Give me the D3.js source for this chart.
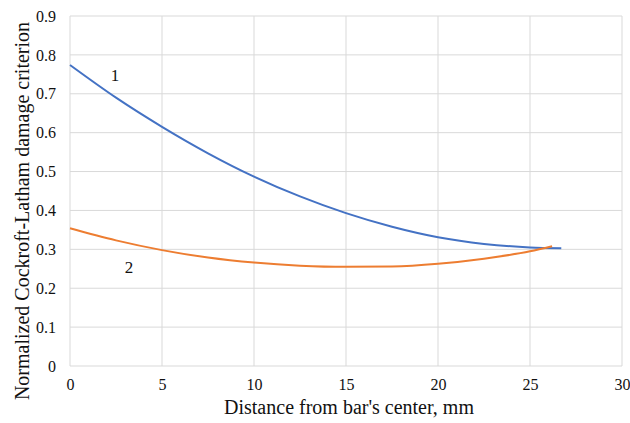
<!DOCTYPE html>
<html lang="en">
    <head>
        <meta charset="utf-8" />
        <title>Cockroft-Latham damage criterion</title>
        <style>
            body { margin: 0; background: #fff; }
            svg text {
                font-family: "Liberation Serif", "Times New Roman", serif;
                fill: #111;
            }
            .grid line { stroke: #d9d9d9; stroke-width: 1; }
        </style>
        <script src="https://cdn.jsdelivr.net/npm/d3@7"></script>
    </head>
    <body>
        <script type="text/javascript">
            // distance from the bar's center, mm
            var xBlue = [0, 2.5, 5, 7.5, 10, 12.5, 15, 17.5, 20, 22.5, 25, 26.7];
            var yBlue = [0.774, 0.69, 0.615, 0.547, 0.487, 0.436, 0.393, 0.358, 0.331, 0.314, 0.305, 0.303];
            var xOrange = [0, 2.5, 5, 7.5, 10, 12.5, 15, 17.5, 20, 22.5, 25, 26.2];
            var yOrange = [0.354, 0.323, 0.298, 0.279, 0.266, 0.258, 0.255, 0.256, 0.263, 0.276, 0.295, 0.308];
            var xTicks = [0, 5, 10, 15, 20, 25, 30];
            var yTicks = [0, 0.1, 0.2, 0.3, 0.4, 0.5, 0.6, 0.7, 0.8, 0.9];

            var width = 630,
                height = 423,
                plotLeft = 70, plotRight = 622, plotTop = 16, plotBottom = 366;

            var x = d3.scaleLinear().domain([0, 30]).range([plotLeft, plotRight]);
            var y = d3.scaleLinear().domain([0, 0.9]).range([plotBottom, plotTop]);

            var svg = d3.select('body')
                        .append('svg')
                        .attr('width', width)
                        .attr('height', height);

            // grid
            var grid = svg.append('g').attr('class', 'grid');
            grid.selectAll('.gx').data(xTicks).enter().append('line')
                .attr('x1', function(d) { return x(d); })
                .attr('x2', function(d) { return x(d); })
                .attr('y1', plotTop).attr('y2', plotBottom);
            grid.selectAll('.gy').data(yTicks).enter().append('line')
                .attr('x1', plotLeft).attr('x2', plotRight)
                .attr('y1', function(d) { return y(d); })
                .attr('y2', function(d) { return y(d); });

            // axes (labels only, lines come from the grid)
            svg.append('g')
                .attr('transform', 'translate(0,' + plotBottom + ')')
                .call(d3.axisBottom(x).tickValues(xTicks).tickSize(0).tickPadding(13))
                .attr('font-family', 'Liberation Serif')
                .attr('font-size', 16);
            svg.append('g')
                .attr('transform', 'translate(' + plotLeft + ',0)')
                .call(d3.axisLeft(y).tickValues(yTicks).tickSize(0).tickPadding(14)
                    .tickFormat(function(d) { return d === 0 ? '0' : d3.format('.1f')(d); }))
                .attr('font-family', 'Liberation Serif')
                .attr('font-size', 16);
            svg.selectAll('.domain').remove();
            svg.selectAll('.tick text').attr('fill', '#111');

            var line = d3.line()
                .x(function(d) { return x(d[0]); })
                .y(function(d) { return y(d[1]); })
                .curve(d3.curveMonotoneX);

            svg.append('path')
                .datum(d3.zip(xBlue, yBlue))
                .attr('fill', 'none')
                .attr('stroke', '#4472c4')
                .attr('stroke-width', 2)
                .attr('d', line);

            svg.append('path')
                .datum(d3.zip(xOrange, yOrange))
                .attr('fill', 'none')
                .attr('stroke', '#ed7d31')
                .attr('stroke-width', 2)
                .attr('d', line);

            // curve numbers
            svg.append('text').attr('x', 115).attr('y', 81)
                .attr('text-anchor', 'middle').style('font-size', '17px').text('1');
            svg.append('text').attr('x', 129).attr('y', 273)
                .attr('text-anchor', 'middle').style('font-size', '17px').text('2');

            // axis titles
            svg.append('text')
                .attr('x', 349)
                .attr('y', 414)
                .attr('text-anchor', 'middle')
                .style('font-size', '20px')
                .text("Distance from bar's center, mm");

            svg.append('text')
                .attr('transform', 'translate(29,211) rotate(-90)')
                .attr('text-anchor', 'middle')
                .style('font-size', '20px')
                .text('Normalized Cockroft-Latham damage criterion');
        </script>
    </body>
</html>
